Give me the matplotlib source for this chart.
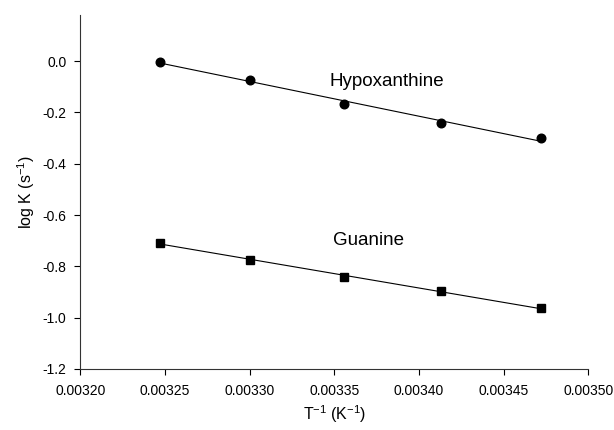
import numpy as np
import matplotlib
matplotlib.use("Agg")
from matplotlib import pyplot as plt
from matplotlib.ticker import FormatStrFormatter

plt.rcParams['font.family'] = ['Liberation Sans', 'DejaVu Sans']
plt.rcParams['mathtext.fontset'] = 'custom'
plt.rcParams['mathtext.rm'] = 'Liberation Sans'
plt.rcParams['mathtext.it'] = 'Liberation Sans:italic'
plt.rcParams['axes.unicode_minus'] = False

# inverse temperature (1/K)
inv_T = [0.003247, 0.003300, 0.003356, 0.003413, 0.003472]
# log K (s^-1)
logk_hypo = [-0.003, -0.073, -0.167, -0.241, -0.301]
logk_guan = [-0.708, -0.775, -0.841, -0.897, -0.963]

x_ticks = [0.00320, 0.00325, 0.00330, 0.00335, 0.00340, 0.00345, 0.00350]
y_ticks = [0.0, -0.2, -0.4, -0.6, -0.8, -1.0, -1.2]

fig = plt.figure(figsize=(6.14, 4.30), dpi=100)
ax = fig.add_axes([0.131, 0.142, 0.827, 0.823])

x = np.array(inv_T)
for y, mk, ms in [(logk_hypo, 'o', 6.2), (logk_guan, 's', 5.3)]:
    # linear regression line
    p = np.polyfit(x, y, 1)
    ax.plot(x, np.polyval(p, x), color='black', lw=0.8, zorder=2)
    ax.plot(x, y, ls='none', marker=mk, ms=ms, color='black', zorder=3)

ax.text(0.003381, -0.079, 'Hypoxanthine', fontsize=13.5, ha='center', va='center')
ax.text(0.003370, -0.700, 'Guanine', fontsize=13.5, ha='center', va='center')

ax.set_xlim(0.00320, 0.00350)
ax.set_ylim(-1.2, 0.18)
ax.set_xticks(x_ticks)
ax.set_yticks(y_ticks)
ax.xaxis.set_major_formatter(FormatStrFormatter('%.5f'))
ax.yaxis.set_major_formatter(FormatStrFormatter('%.1f'))
ax.tick_params(direction='out', length=4, width=0.8, labelsize=10, colors='black')
ax.tick_params(axis='x', pad=7)
ax.tick_params(axis='y', pad=6)
ax.spines['top'].set_visible(False)
ax.spines['right'].set_visible(False)
for s in ['left', 'bottom']:
    ax.spines[s].set_linewidth(0.8)
    ax.spines[s].set_color('#333333')

ax.set_xlabel('T$^{-1}$ (K$^{-1}$)', fontsize=11.5, labelpad=4)
ax.set_ylabel('log K (s$^{-1}$)', fontsize=11.5, labelpad=4)

fig.savefig('out.png', dpi=100)
